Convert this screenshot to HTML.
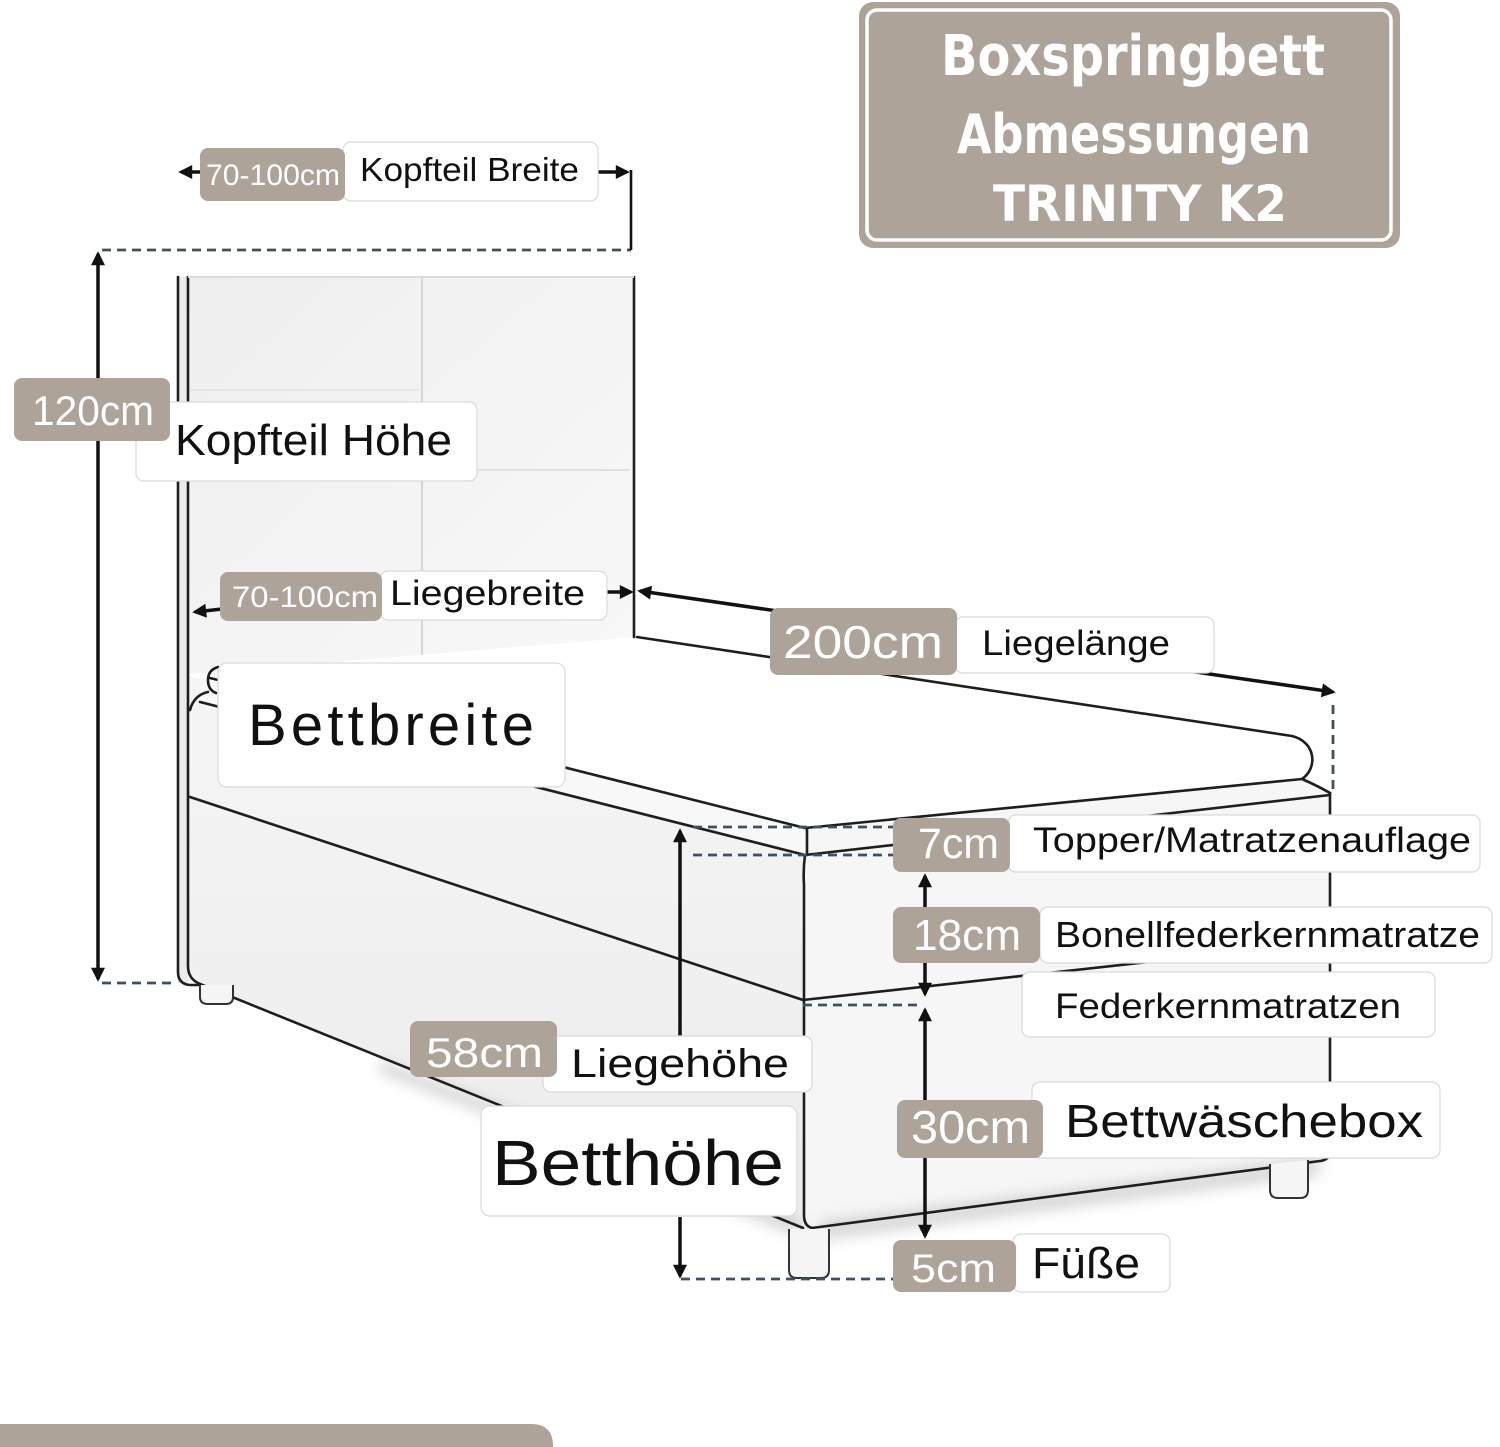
<!DOCTYPE html>
<html><head><meta charset="utf-8">
<style>
html,body{margin:0;padding:0;background:#fff;}
svg{display:block;}
</style></head><body>
<svg width="1500" height="1447" viewBox="0 0 1500 1447" xmlns="http://www.w3.org/2000/svg">
<defs>
<marker id="ah" viewBox="0 0 10 10" refX="8" refY="5" markerWidth="4.6" markerHeight="4" orient="auto-start-reverse"><path d="M0,0 L10,5 L0,10 z" fill="#111"/></marker>
<filter id="bl" x="-20%" y="-50%" width="140%" height="200%"><feGaussianBlur stdDeviation="7"/></filter>
<linearGradient id="hb" x1="0" y1="0" x2="1" y2="1"><stop offset="0" stop-color="#efefef"/><stop offset="1" stop-color="#f8f8f8"/></linearGradient>
<linearGradient id="sd" x1="0" y1="0" x2="0" y2="1"><stop offset="0" stop-color="#f5f5f5"/><stop offset="1" stop-color="#ececec"/></linearGradient>
</defs>
<rect width="1500" height="1447" fill="#fff"/>

<!-- ===== BED FILLS ===== -->
<polygon points="188,277 634,277 634,640 188,674" fill="url(#hb)"/>
<rect x="178" y="277" width="10" height="706" fill="#ebebeb"/>
<polygon points="188,674 637,637 1294,737 1312,752 1302,779 805,828 205,678" fill="#fff"/>
<polygon points="188,676 805,828 805,1228 200,984 188,970" fill="url(#sd)"/>
<polygon points="200,678 805,828 805,855 200,704" fill="#f8f8f8"/>
<polygon points="805,828 1302,779 1330,793 1330,1160 805,1228" fill="#f6f6f6"/>
<!-- shadows -->
<polygon points="380,1060 800,1222 800,1236 380,1072" fill="#9a9a9a" opacity="0.45" filter="url(#bl)"/>
<polygon points="820,1222 1320,1158 1320,1175 820,1240" fill="#9a9a9a" opacity="0.4" filter="url(#bl)"/>

<!-- ===== BED LINES ===== -->
<g fill="none" stroke="#1e1e1e" stroke-width="2.6" stroke-linecap="round" stroke-linejoin="round">
  <path d="M178,277 V972 Q178,984 190,985 H200"/>
  <path d="M188,277 V966 Q188,979 200,984 L803,1228"/>
  <path d="M634,277 V637"/>
  <path d="M637,637 L1292,736 C1316,742 1318,768 1302,779 Q1318,786 1330,793"/>
  <path d="M210,678 L805,828 L1302,779"/>
  <path d="M218,667 Q208,670 208,680 Q208,690 216,693"/>
  <path d="M208,692 Q194,695 190,710"/>
  <path d="M200,702 L805,855"/>
  <path d="M807,828 V855"/>
  <path d="M805,855 Q803,870 804,885 V1215 Q804,1226 812,1228"/>
  <path d="M190,797 L803,1000"/>
  <path d="M803,1000 L1330,942"/>
  <path d="M805,855 L1330,795"/>
  <path d="M1330,793 V1150 Q1330,1160 1320,1161 L812,1228"/>
</g>
<!-- headboard seams -->
<path d="M188,277 H634" stroke="#dcdcdc" stroke-width="2" fill="none"/>
<path d="M422,277 V655" stroke="#d6d6d6" stroke-width="2" fill="none"/>
<path d="M424,470 H630" stroke="#e0e0e0" stroke-width="2" fill="none"/>
<path d="M190,390 H420" stroke="#e6e6e6" stroke-width="2" fill="none"/>
<!-- feet -->
<g fill="#f5f5f5" stroke="#333" stroke-width="2">
  <path d="M200,985 V997 Q200,1004 208,1004 H226 Q233,1004 233,997 V985"/>
  <path d="M789,1229 V1270 Q789,1278 797,1278 H821 Q829,1278 829,1270 V1229"/>
  <path d="M1270,1164 V1190 Q1270,1198 1278,1198 H1300 Q1308,1198 1308,1190 V1160"/>
</g>

<!-- ===== DIMENSION LINES ===== -->
<g stroke="#40505e" stroke-width="2.8" fill="none" stroke-dasharray="9 6">
  <path d="M102,250 H631"/>
  <path d="M102,983 H176"/>
  <path d="M693,827 H893"/>
  <path d="M693,855 H893"/>
  <path d="M803,1005 H918"/>
  <path d="M681,1279 H893"/>
  <path d="M1333,705 V790"/>
</g>
<g stroke="#111" stroke-width="3.5" fill="none">
  <line x1="98" y1="254" x2="98" y2="979" marker-start="url(#ah)" marker-end="url(#ah)"/>
  <line x1="200" y1="172" x2="181" y2="172" marker-end="url(#ah)"/>
  <line x1="598" y1="172" x2="627" y2="172" marker-end="url(#ah)"/>
  <path d="M631,170 V250" stroke-width="2.6"/>
  <line x1="222" y1="609" x2="195" y2="612" marker-end="url(#ah)"/>
  <line x1="607" y1="592" x2="631" y2="592" marker-end="url(#ah)"/>
  <line x1="640" y1="591" x2="1333" y2="692" marker-start="url(#ah)" marker-end="url(#ah)"/>
  <line x1="680" y1="831" x2="680" y2="1040" marker-start="url(#ah)"/>
  <line x1="680" y1="1217" x2="680" y2="1276" marker-end="url(#ah)"/>
  <line x1="925" y1="876" x2="925" y2="994" marker-start="url(#ah)" marker-end="url(#ah)"/>
  <line x1="925" y1="1010" x2="925" y2="1236" marker-start="url(#ah)" marker-end="url(#ah)"/>
</g>

<!-- ===== TITLE ===== -->
<rect x="859" y="2" width="541" height="246" rx="14" fill="#ada399"/>
<rect x="867" y="10" width="524" height="230" rx="10" fill="none" stroke="#fff" stroke-width="3.5"/>
<g font-family="'DejaVu Sans', 'Liberation Sans', sans-serif" font-weight="bold" fill="#fff">
  <text x="941" y="75" font-size="56" textLength="384" lengthAdjust="spacingAndGlyphs">Boxspringbett</text>
  <text x="957" y="153" font-size="54" textLength="354" lengthAdjust="spacingAndGlyphs">Abmessungen</text>
  <text x="993" y="221" font-size="50" textLength="294" lengthAdjust="spacingAndGlyphs">TRINITY K2</text>
</g>

<!-- ===== LABELS ===== -->
<g font-family="'Liberation Sans', sans-serif">
  <!-- Kopfteil Breite -->
  <rect x="343" y="142" width="255" height="59" rx="8" fill="#fff" stroke="#d9d9d9" stroke-width="1.2"/>
  <text x="360" y="181" font-size="33" fill="#111" textLength="219" lengthAdjust="spacingAndGlyphs">Kopfteil Breite</text>
  <rect x="200" y="148" width="145" height="53" rx="8" fill="#ada399"/>
  <text x="206" y="185" font-size="30" fill="#fff" textLength="134" lengthAdjust="spacingAndGlyphs">70-100cm</text>

  <!-- Kopfteil Höhe -->
  <rect x="136" y="402" width="341" height="79" rx="8" fill="#fff" stroke="#d9d9d9" stroke-width="1.2"/>
  <text x="175" y="455" font-size="44" fill="#111" textLength="277" lengthAdjust="spacingAndGlyphs">Kopfteil Höhe</text>
  <rect x="14" y="378" width="156" height="63" rx="8" fill="#ada399"/>
  <text x="32" y="425" font-size="42" fill="#fff" textLength="122" lengthAdjust="spacingAndGlyphs">120cm</text>

  <!-- Liegebreite -->
  <rect x="380" y="571" width="227" height="49" rx="8" fill="#fff" stroke="#d9d9d9" stroke-width="1.2"/>
  <text x="390" y="605" font-size="35" fill="#111" textLength="195" lengthAdjust="spacingAndGlyphs">Liegebreite</text>
  <rect x="220" y="572" width="162" height="49" rx="8" fill="#ada399"/>
  <text x="232" y="607" font-size="30" fill="#fff" textLength="146" lengthAdjust="spacingAndGlyphs">70-100cm</text>

  <!-- Liegelänge -->
  <rect x="955" y="617" width="259" height="56" rx="8" fill="#fff" stroke="#d9d9d9" stroke-width="1.2"/>
  <text x="982" y="655" font-size="35" fill="#111" textLength="188" lengthAdjust="spacingAndGlyphs">Liegelänge</text>
  <rect x="770" y="608" width="187" height="67" rx="8" fill="#ada399"/>
  <text x="783" y="658" font-size="46" fill="#fff" textLength="160" lengthAdjust="spacingAndGlyphs">200cm</text>

  <!-- Bettbreite -->
  <rect x="218" y="663" width="347" height="124" rx="9" fill="#fff" stroke="#d9d9d9" stroke-width="1.2"/>
  <text x="248" y="745" font-size="58" fill="#111" textLength="286" lengthAdjust="spacing">Bettbreite</text>

  <!-- Topper -->
  <rect x="1008" y="815" width="472" height="57" rx="8" fill="#fff" stroke="#d9d9d9" stroke-width="1.2"/>
  <text x="1033" y="852" font-size="35" fill="#111" textLength="438" lengthAdjust="spacingAndGlyphs">Topper/Matratzenauflage</text>
  <rect x="893" y="818" width="117" height="54" rx="8" fill="#ada399"/>
  <text x="918" y="858" font-size="43" fill="#fff" textLength="81" lengthAdjust="spacingAndGlyphs">7cm</text>

  <!-- Bonell -->
  <rect x="1040" y="907" width="452" height="56" rx="8" fill="#fff" stroke="#d9d9d9" stroke-width="1.2"/>
  <text x="1055" y="947" font-size="36" fill="#111" textLength="425" lengthAdjust="spacingAndGlyphs">Bonellfederkernmatratze</text>
  <rect x="893" y="907" width="147" height="56" rx="8" fill="#ada399"/>
  <text x="913" y="950" font-size="44" fill="#fff" textLength="108" lengthAdjust="spacingAndGlyphs">18cm</text>

  <!-- Federkernmatratzen -->
  <rect x="1022" y="972" width="413" height="65" rx="8" fill="#fff" stroke="#d9d9d9" stroke-width="1.2"/>
  <text x="1055" y="1018" font-size="35" fill="#111" textLength="346" lengthAdjust="spacingAndGlyphs">Federkernmatratzen</text>

  <!-- Liegehöhe -->
  <rect x="543" y="1036" width="269" height="56" rx="8" fill="#fff" stroke="#d9d9d9" stroke-width="1.2"/>
  <text x="571" y="1077" font-size="40" fill="#111" textLength="218" lengthAdjust="spacingAndGlyphs">Liegehöhe</text>
  <rect x="410" y="1021" width="147" height="56" rx="8" fill="#ada399"/>
  <text x="426" y="1067" font-size="42" fill="#fff" textLength="117" lengthAdjust="spacingAndGlyphs">58cm</text>

  <!-- Betthöhe -->
  <rect x="481" y="1106" width="316" height="110" rx="9" fill="#fff" stroke="#d9d9d9" stroke-width="1.2"/>
  <text x="492" y="1185" font-size="64" fill="#111" textLength="292" lengthAdjust="spacingAndGlyphs">Betthöhe</text>

  <!-- Bettwäschebox -->
  <rect x="1032" y="1082" width="408" height="76" rx="8" fill="#fff" stroke="#d9d9d9" stroke-width="1.2"/>
  <text x="1065" y="1137" font-size="46" fill="#111" textLength="358" lengthAdjust="spacingAndGlyphs">Bettwäschebox</text>
  <rect x="897" y="1100" width="146" height="58" rx="8" fill="#ada399"/>
  <text x="911" y="1143" font-size="46" fill="#fff" textLength="119" lengthAdjust="spacingAndGlyphs">30cm</text>

  <!-- Füße -->
  <rect x="1013" y="1234" width="157" height="58" rx="8" fill="#fff" stroke="#d9d9d9" stroke-width="1.2"/>
  <text x="1032" y="1278" font-size="44" fill="#111" textLength="108" lengthAdjust="spacingAndGlyphs">Füße</text>
  <rect x="893" y="1240" width="123" height="52" rx="8" fill="#ada399"/>
  <text x="911" y="1282" font-size="40" fill="#fff" textLength="85" lengthAdjust="spacingAndGlyphs">5cm</text>
</g>

<!-- bottom bar -->
<path d="M0,1424 H531 Q553,1424 553,1446 V1447 H0 Z" fill="#ada399"/>
</svg>
</body></html>
